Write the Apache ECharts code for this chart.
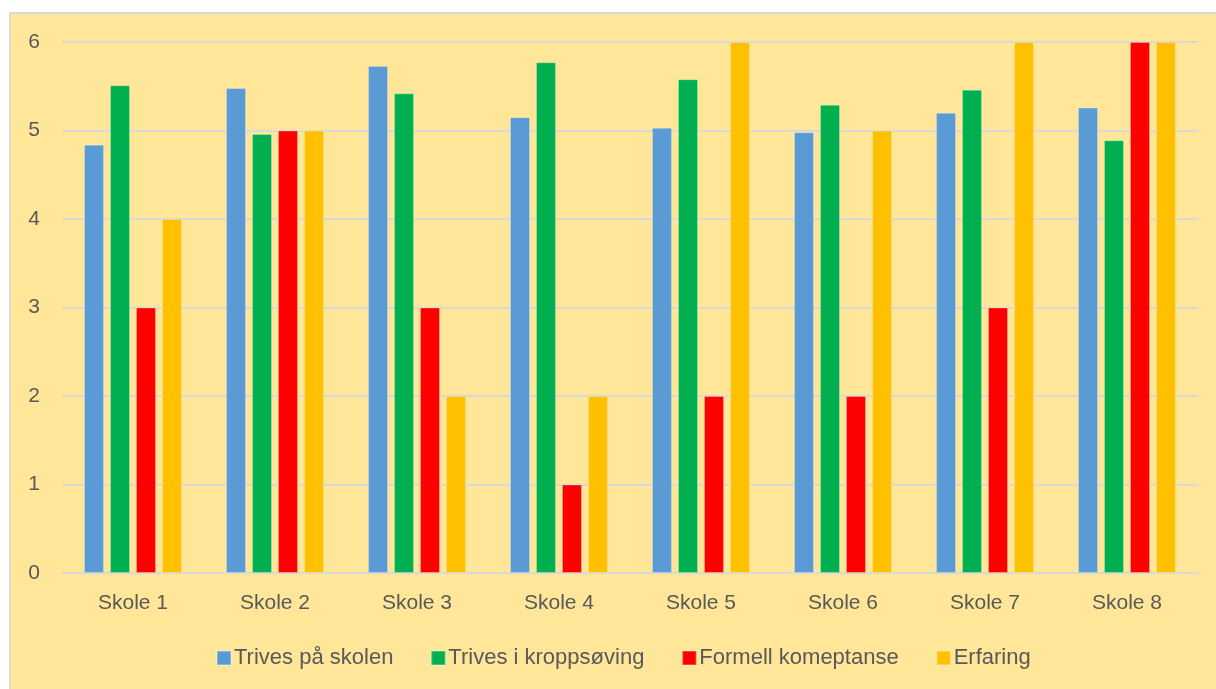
<!DOCTYPE html>
<html>
<head>
<meta charset="utf-8">
<script src="https://cdn.jsdelivr.net/npm/echarts@6/dist/echarts.min.js"></script>
<style>
  html, body { margin: 0; padding: 0; background: #ffffff; width: 1216px; height: 689px; overflow: hidden; }
  #frame {
    position: absolute; left: 9px; top: 12px; width: 1220px; height: 690px;
    border-left: 2px solid #d9d9d9; border-top: 2px solid #d9d9d9;
    background: #FFE699;
  }
  #chart { position: absolute; left: 0; top: 0; width: 1205px; height: 675px; }
</style>
</head>
<body>
<div id="frame"><div id="chart"></div></div>
<script>
// School survey results per school
const categories = ['Skole 1', 'Skole 2', 'Skole 3', 'Skole 4', 'Skole 5', 'Skole 6', 'Skole 7', 'Skole 8'];
const seriesNames = ['Trives på skolen', 'Trives i kroppsøving', 'Formell komeptanse', 'Erfaring'];
const trivesSkolen = [4.84, 5.48, 5.73, 5.15, 5.03, 4.98, 5.20, 5.26];
const trivesKropp = [5.51, 4.96, 5.42, 5.77, 5.58, 5.29, 5.46, 4.89];
const formell = [3, 5, 3, 1, 2, 2, 3, 6];
const erfaring = [4, 5, 2, 2, 6, 5, 6, 6];
const colors = ['#5B9BD5', '#00B050', '#FF0000', '#FFC000'];

const font = 'Liberation Sans';
const textColor = '#595959';

const chart = echarts.init(document.getElementById('chart'), null, { renderer: 'canvas' });
const values = [trivesSkolen, trivesKropp, formell, erfaring];

chart.setOption({
  animation: false,
  backgroundColor: 'transparent',
  color: colors,
  grid: { left: 51, right: 18, top: 28, bottom: 116, containLabel: false },
  legend: {
    left: 200, top: 628,
    itemWidth: 14, itemHeight: 14, itemGap: 37,
    icon: 'rect',
    textStyle: { fontFamily: font, fontSize: 22, color: textColor, padding: [0, 0, 0, -2] },
    data: seriesNames
  },
  xAxis: {
    type: 'category',
    data: categories,
    axisLine: { lineStyle: { color: '#d9d9d9', width: 2 } },
    axisTick: { show: false },
    axisLabel: { fontFamily: font, fontSize: 21, color: textColor, margin: 20 }
  },
  yAxis: {
    type: 'value',
    min: 0, max: 6, interval: 1,
    axisLine: { show: false },
    axisTick: { show: false },
    splitLine: { lineStyle: { color: '#d9d9d9', width: 2 } },
    axisLabel: { fontFamily: font, fontSize: 21, color: textColor, margin: 22 }
  },
  series: seriesNames.map((name, i) => ({
    name: name,
    type: 'bar',
    data: values[i],
    barGap: '30%',
    barCategoryGap: '31%',
    itemStyle: { color: colors[i], borderColor: 'rgba(255,255,255,0.25)', borderWidth: 1 }
  }))
});
</script>
</body>
</html>
